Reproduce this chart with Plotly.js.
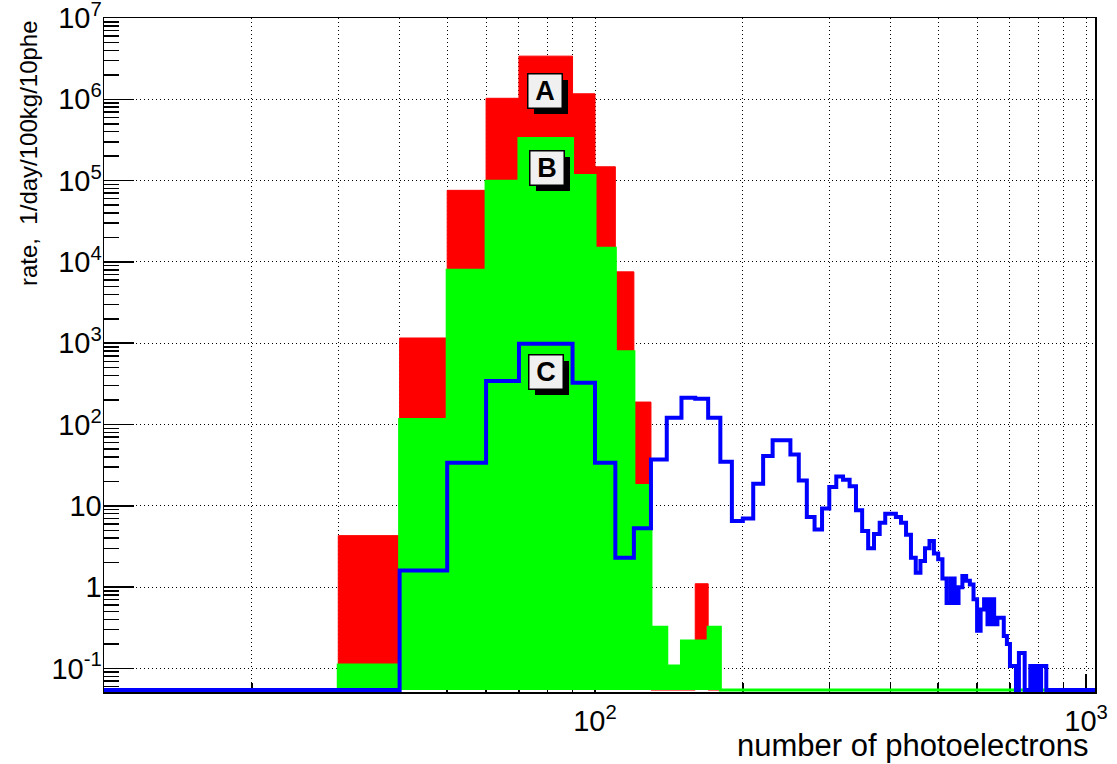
<!DOCTYPE html>
<html>
<head>
<meta charset="utf-8">
<script src="https://cdn.plot.ly/plotly-3.0.1.min.js"></script>
<style>
html,body{margin:0;padding:0;background:#ffffff;}
#chart{width:1117px;height:764px;}
</style>
</head>
<body>
<div id="chart"></div>
<script>
// ---- data (bins of 10 photoelectrons, lower edges) ----
const binLow = [10,20,30,40,50,60,70,80,90,100,110,120,130,140,150,160,170,180,190,200,
  210,220,230,240,250,260,270,280,290,300,310,320,330,340,350,360,370,380,390,400,
  410,420,430,440,450,460,470,480,490,500,510,520,530,540,550,560,570,580,590,600,
  610,620,630,640,650,660,670,680,690,700,710,720,730,740,750,760,770,780,790,800,
  810,820,830,840,850,860,870,880,890,900,910,920,930,940,950,960,970,980,990,1000,
  1010,1020,1030,1040];
const binWidth = 10;

// A (red)
const rateA = [0,0,4.3,1160,76000,1.03e6,3.4e6,3.4e6,1.17e6,1.48e5,7550,189,0,0,0,1.1,0,
  0,0,0,0,0,0,0,0,0,0,0,0,0,0,0,0,0,0,0,0,0,0,0,0,0,0,0,0,0,0,0,0,0,0,0,0,0,0,0,0,0,0,0,0,
  0,0,0,0,0,0,0,0,0,0,0,0,0,0,0,0,0,0,0,0,0,0,0,0,0,0,0,0,0,0,0,0,0,0,0,0,0,0,0,0,0,0,0];
// B (green)
const rateB = [0,0,0.11,115,7900,98600,3.3e5,3.3e5,1.16e5,14700,784,17.8,0.32,0.107,0.217,0.217,0.32,
  0,0,0,0,0,0,0,0,0,0,0,0,0,0,0,0,0,0,0,0,0,0,0,0,0,0,0,0,0,0,0,0,0,0,0,0,0,0,0,0,0,0,0,0,
  0,0,0,0,0,0,0,0,0,0,0,0,0,0,0,0,0,0,0,0,0,0,0,0,0,0,0,0,0,0,0,0,0,0,0,0,0,0,0,0,0,0,0];
// C (blue)
const rateC = [0,0,0,1.6,33.8,342,984,984,326,33.8,2.3,5.3,37.2,121,213,207,121,34.8,6.5,7.0,
  18.7,40.9,64,64,42.9,20.5,7.3,5.1,9.3,17.1,23,21,17.4,8.8,4.9,3.0,4.5,6.2,8.0,8.0,
  7.3,6.2,4.4,2.3,1.5,2.1,3.0,3.7,2.6,2.2,1.28,0.64,1.28,0.64,1.0,1.37,1.2,1.08,0.71,0.29,
  0.53,0.71,0.35,0.71,0.35,0.42,0.42,0.25,0.2,0.107,0.107,0,0.155,0.155,0,0,0.107,0,0.107,0,
  0.107,0.107,0,0,0,0,0,0,0,0,0,0,0,0,0,0,0,0,0,0,0,0,0,0];

const xTickVals = [100, 1000];
const xTickText = ['10<sup>2</sup>', '10<sup>3</sup>'];
const yTickVals = [0.1, 1, 10, 100, 1e3, 1e4, 1e5, 1e6, 1e7];
const yTickText = ['10<sup>-1</sup>', '1', '10', '10<sup>2</sup>', '10<sup>3</sup>',
  '10<sup>4</sup>', '10<sup>5</sup>', '10<sup>6</sup>', '10<sup>7</sup>'];

const labelNames = ['A', 'B', 'C'];
const labelX = [79, 80, 79.5];
const labelY = [1.27e6, 1.45e5, 441];

// ---- drawing ----
const FONT = 'Liberation Sans, Arial, Helvetica, sans-serif';
const yLogMin = -1.29, yLogMax = 7.0005;
const floorVal = Math.pow(10, -1.266);

function binHigh(i) { return binLow[i] + binWidth; }

function filledSteps(vals) {
  const xs = [binLow[0]], ys = [floorVal];
  for (let i = 0; i < binLow.length; i++) {
    const v = vals[i] > 0 ? vals[i] : floorVal;
    xs.push(binLow[i], binHigh(i));
    ys.push(v, v);
  }
  xs.push(binHigh(binLow.length - 1)); ys.push(floorVal);
  return {x: xs, y: ys};
}

function lineSteps(vals) {
  const xs = [], ys = [];
  for (let i = 0; i < binLow.length; i++) {
    xs.push(binLow[i]);
    ys.push(vals[i] > 0 ? vals[i] : floorVal);
  }
  xs.push(binHigh(binLow.length - 1));
  ys.push(ys[ys.length - 1]);
  return {x: xs, y: ys};
}

const pa = filledSteps(rateA);
const pb = filledSteps(rateB);
const pc = lineSteps(rateC);

const traces = [
  {type: 'scatter', mode: 'lines', x: pa.x, y: pa.y, fill: 'toself', fillcolor: '#ff0000',
   line: {color: '#ff0000', width: 1}, hoverinfo: 'skip', name: 'A'},
  {type: 'scatter', mode: 'lines', x: pb.x, y: pb.y, fill: 'toself', fillcolor: '#00ff00',
   line: {color: '#00ff00', width: 3}, hoverinfo: 'skip', name: 'B'},
  {type: 'scatter', mode: 'lines', x: pc.x, y: pc.y, line: {color: '#0000ff', width: 4, shape: 'hv'},
   hoverinfo: 'skip', name: 'C'}
];

const xMinor = [];
[10, 100].forEach(d => { for (let k = 2; k <= 9; k++) xMinor.push(k * d); });
const yMinor = [];
for (let e = -2; e <= 6; e++) { for (let k = 2; k <= 9; k++) yMinor.push(k * Math.pow(10, e)); }

const gridStyle = {gridcolor: '#000000', gridwidth: 1, griddash: '1px,3px'};

// label boxes: black shadow box + light box with letter
const annotations = [];
for (let i = 0; i < labelNames.length; i++) {
  annotations.push({
    x: Math.log10(labelX[i]), y: Math.log10(labelY[i]), xref: 'x', yref: 'y',
    text: '&nbsp;', showarrow: false,
    font: {family: FONT, size: 27, color: '#000000'},
    bgcolor: '#000000', width: 34, height: 34, borderpad: 0, borderwidth: 0,
    xshift: 6, yshift: -6
  });
  annotations.push({
    x: Math.log10(labelX[i]), y: Math.log10(labelY[i]), xref: 'x', yref: 'y',
    text: '<b>' + labelNames[i] + '</b>', showarrow: false,
    font: {family: FONT, size: 27, color: '#000000'},
    bgcolor: '#f0f0f0', bordercolor: '#000000', borderwidth: 1.5,
    width: 33, height: 33, borderpad: 0
  });
}
annotations.push({
  xref: 'paper', yref: 'paper', x: 0.996, y: -0.079, xanchor: 'right', yanchor: 'middle',
  text: 'number of photoelectrons', showarrow: false,
  font: {family: FONT, size: 31, color: '#000000'}
});
annotations.push({
  xref: 'paper', yref: 'paper', x: -0.0767, y: 1.0, xanchor: 'center', yanchor: 'top',
  text: 'rate,  1/day/100kg/10phe', showarrow: false, textangle: -90,
  font: {family: FONT, size: 24, color: '#000000'}
});

const layout = {
  width: 1117, height: 764,
  margin: {l: 104, r: 22, t: 18, b: 72, pad: 0},
  paper_bgcolor: '#ffffff', plot_bgcolor: '#ffffff',
  showlegend: false,
  xaxis: Object.assign({
    type: 'log', range: [1, Math.log10(1043)], autorange: false,
    tickmode: 'array', tickvals: xTickVals, ticktext: xTickText,
    ticks: 'inside', ticklen: 18, tickwidth: 1.5, tickcolor: '#000000',
    showgrid: true, zeroline: false,
    showline: true, linecolor: '#000000', linewidth: 1.5, mirror: true,
    layer: 'below traces',
    tickfont: {family: FONT, size: 29, color: '#000000'},
    ticklabelstandoff: 3, ticklabeloverflow: 'allow',
    minor: Object.assign({tickmode: 'array', tickvals: xMinor, ticks: 'inside', ticklen: 9,
      tickwidth: 1.5, tickcolor: '#000000', showgrid: true}, gridStyle)
  }, gridStyle),
  yaxis: Object.assign({
    type: 'log', range: [yLogMin, yLogMax], autorange: false,
    tickmode: 'array', tickvals: yTickVals, ticktext: yTickText,
    ticks: 'inside', ticklen: 30, tickwidth: 1.5, tickcolor: '#000000',
    showgrid: true, zeroline: false,
    showline: true, linecolor: '#000000', linewidth: 1.5, mirror: true,
    layer: 'below traces',
    tickfont: {family: FONT, size: 29, color: '#000000'},
    ticklabelstandoff: -5, ticklabeloverflow: 'allow',
    minor: {tickmode: 'array', tickvals: yMinor, ticks: 'inside', ticklen: 15,
      tickwidth: 1.5, tickcolor: '#000000', showgrid: false}
  }, gridStyle),
  annotations: annotations
};

Plotly.newPlot('chart', traces, layout, {displayModeBar: false, staticPlot: true});
</script>
</body>
</html>
